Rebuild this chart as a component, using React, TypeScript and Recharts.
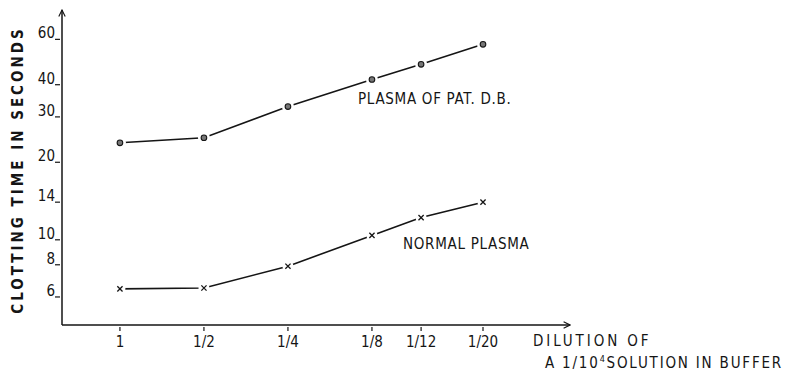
import React from 'react'
import { LineChart, Line, XAxis, YAxis } from 'recharts'

// dilution denominators (1, 1/2, 1/4 ...), plotted on a log axis
const dilutions = [1, 2, 4, 8, 12, 20]
const patientTimes = [23.8, 24.9, 32.9, 41.9, 48, 57.4]
const normalTimes = [6.45, 6.5, 7.9, 10.4, 12.2, 14.0]
const yTicks = [6, 8, 10, 14, 20, 30, 40, 60]

const data = dilutions.map((d, i) => ({
  dilution: d,
  patient: patientTimes[i],
  normal: normalTimes[i],
}))

const INK = '#151515'
const FONT = '"DejaVu Sans Condensed", "DejaVu Sans", "Liberation Sans", sans-serif'

const CircleDot = (props: any) => {
  const { cx, cy, index } = props
  if (cx == null || cy == null) return null
  return (
    <g key={`c${index}`}>
      <circle cx={cx} cy={cy} r={6} fill="#fff" />
      <circle cx={cx} cy={cy} r={2.8} fill="#777" stroke={INK} strokeWidth={1.1} />
    </g>
  )
}

const CrossDot = (props: any) => {
  const { cx, cy, index } = props
  if (cx == null || cy == null) return null
  const s = 2.6
  return (
    <g key={`x${index}`}>
      <circle cx={cx} cy={cy} r={5.5} fill="#fff" />
      <path
        d={`M${cx - s},${cy - s}L${cx + s},${cy + s}M${cx - s},${cy + s}L${cx + s},${cy - s}`}
        stroke={INK}
        strokeWidth={1.3}
      />
    </g>
  )
}

const YTick = (props: any) => {
  const { x, y, payload } = props
  return (
    <g>
      <line x1={x + 1} y1={y} x2={x + 6} y2={y} stroke={INK} strokeWidth={1.2} />
      <text x={x + 1} y={y - 1} textAnchor="end" fontFamily={FONT} fontSize={15} fill={INK}>
        {payload.value}
      </text>
    </g>
  )
}

const XTick = (props: any) => {
  const { x, y, payload } = props
  const v = payload.value
  return (
    <g>
      <line x1={x} y1={y - 6} x2={x} y2={y - 2} stroke={INK} strokeWidth={1.2} />
      <text x={x} y={y + 14} textAnchor="middle" fontFamily={FONT} fontSize={15} fill={INK}>
        {v === 1 ? '1' : `1/${v}`}
      </text>
    </g>
  )
}

export default function App() {
  return (
    <div style={{ position: 'absolute', left: 0, top: 0, width: 785, height: 375, background: '#fff' }}>
      <svg width={0} height={0} style={{ position: 'absolute' }}>
        <defs>
          <marker id="arrow" viewBox="0 0 10 10" refX={9} refY={5} markerWidth={8} markerHeight={8} orient="auto-start-reverse" markerUnits="userSpaceOnUse">
            <path d="M1,1L9,5L1,9" fill="none" stroke={INK} strokeWidth={1.4} />
          </marker>
        </defs>
      </svg>
      <LineChart width={785} height={375} data={data} margin={{ top: 10, right: 215, bottom: 20, left: 12 }}>
        <XAxis
          dataKey="dilution"
          type="number"
          scale="log"
          domain={[0.62, 41]}
          ticks={dilutions}
          allowDataOverflow
          height={30}
          tickLine={false}
          tick={<XTick />}
          axisLine={{ stroke: INK, strokeWidth: 1.5, markerEnd: 'url(#arrow)' }}
        />
        <YAxis
          type="number"
          scale="log"
          domain={[4.67, 78]}
          ticks={yTicks}
          allowDataOverflow
          width={50}
          tickLine={false}
          tick={<YTick />}
          axisLine={{ stroke: INK, strokeWidth: 1.5, markerStart: 'url(#arrow)' }}
        />
        <Line dataKey="patient" stroke={INK} strokeWidth={1.6} dot={CircleDot} isAnimationActive={false} />
        <Line dataKey="normal" stroke={INK} strokeWidth={1.6} dot={CrossDot} isAnimationActive={false} />
      </LineChart>
      <svg width={785} height={375} style={{ position: 'absolute', left: 0, top: 0, pointerEvents: 'none' }}>
        <text
          transform="translate(23,170) rotate(-90)"
          textAnchor="middle"
          fontFamily={FONT}
          fontWeight="bold"
          fontSize={15}
          letterSpacing={3.0}
          fill={INK}
        >
          CLOTTING TIME IN SECONDS
        </text>
        <text x={358} y={104} fontFamily={FONT} fontSize={15} letterSpacing={0.7} fill={INK}>
          PLASMA OF PAT. D.B.
        </text>
        <text x={403} y={249} fontFamily={FONT} fontSize={15} letterSpacing={0.7} fill={INK}>
          NORMAL PLASMA
        </text>
        <text x={533} y={346} fontFamily={FONT} fontSize={15} letterSpacing={2.9} fill={INK}>
          DILUTION OF
        </text>
        <text x={545} y={368} fontFamily={FONT} fontSize={15} letterSpacing={1.8} fill={INK}>
          A 1/10<tspan dy={-6} fontSize={9}>4</tspan>
          <tspan dy={6}>SOLUTION IN BUFFER</tspan>
        </text>
      </svg>
    </div>
  )
}
